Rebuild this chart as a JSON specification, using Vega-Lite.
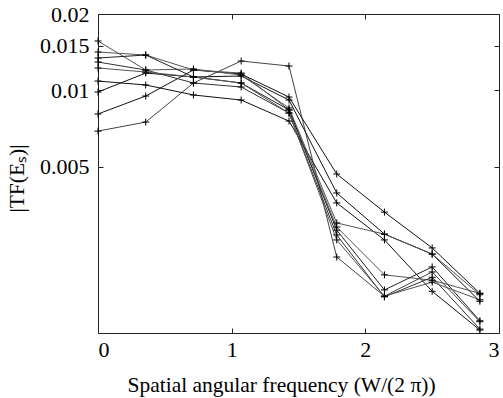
{
  "$schema": "https://vega.github.io/schema/vega-lite/v6.json",
  "autosize": "none",
  "width": 401,
  "height": 319,
  "padding": {"left": 98, "top": 14, "right": 4, "bottom": 65},
  "background": "white",
  "config": {
    "view": {"stroke": "#222", "strokeWidth": 1},
    "axis": {
      "grid": false, "domain": false,
      "labelFont": "Liberation Serif", "labelFontSize": 22, "labelColor": "#000",
      "titleFont": "Liberation Serif", "titleFontSize": 21.5, "titleColor": "#000", "titleFontWeight": "normal",
      "tickColor": "#222", "tickSize": -5, "tickWidth": 1
    }
  },
  "data": {"values": [
    {"s":"S1","x":0,"y":0.00692},{"s":"S1","x":0.357,"y":0.00751},{"s":"S1","x":0.714,"y":0.0107},{"s":"S1","x":1.071,"y":0.01306},{"s":"S1","x":1.429,"y":0.01248},{"s":"S1","x":1.786,"y":0.00221},{"s":"S1","x":2.143,"y":0.00155},{"s":"S1","x":2.5,"y":0.00193},{"s":"S1","x":2.857,"y":0.00123},
    {"s":"S2","x":0,"y":0.00808},{"s":"S2","x":0.357,"y":0.00951},{"s":"S2","x":0.714,"y":0.01204},{"s":"S2","x":1.071,"y":0.01161},{"s":"S2","x":1.429,"y":0.00942},{"s":"S2","x":1.786,"y":0.00469},{"s":"S2","x":2.143,"y":0.00332},{"s":"S2","x":2.5,"y":0.0024},{"s":"S2","x":2.857,"y":0.00159},
    {"s":"S3","x":0,"y":0.00986},{"s":"S3","x":0.357,"y":0.01171},{"s":"S3","x":0.714,"y":0.0113},{"s":"S3","x":1.071,"y":0.0114},{"s":"S3","x":1.429,"y":0.00917},{"s":"S3","x":1.786,"y":0.00395},{"s":"S3","x":2.143,"y":0.00272},{"s":"S3","x":2.5,"y":0.00227},{"s":"S3","x":2.857,"y":0.00148},
    {"s":"S4","x":0,"y":0.01089},{"s":"S4","x":0.357,"y":0.01051},{"s":"S4","x":0.714,"y":0.0096},{"s":"S4","x":1.071,"y":0.00917},{"s":"S4","x":1.429,"y":0.00758},{"s":"S4","x":1.786,"y":0.00361},{"s":"S4","x":2.143,"y":0.00258},{"s":"S4","x":2.5,"y":0.00162},{"s":"S4","x":2.857,"y":0.00114},
    {"s":"S5","x":0,"y":0.01566},{"s":"S5","x":0.357,"y":0.01204},{"s":"S5","x":0.714,"y":0.01215},{"s":"S5","x":1.071,"y":0.0115},{"s":"S5","x":1.429,"y":0.00853},{"s":"S5","x":1.786,"y":0.00301},{"s":"S5","x":2.143,"y":0.00272},{"s":"S5","x":2.5,"y":0.00227},{"s":"S5","x":2.857,"y":0.00157},
    {"s":"S6","x":0,"y":0.01417},{"s":"S6","x":0.357,"y":0.01379},{"s":"S6","x":0.714,"y":0.01204},{"s":"S6","x":1.071,"y":0.01171},{"s":"S6","x":1.429,"y":0.00838},{"s":"S6","x":1.786,"y":0.0029},{"s":"S6","x":2.143,"y":0.00188},{"s":"S6","x":2.5,"y":0.00179},{"s":"S6","x":2.857,"y":0.00159},
    {"s":"S7","x":0,"y":0.01342},{"s":"S7","x":0.357,"y":0.01379},{"s":"S7","x":0.714,"y":0.0113},{"s":"S7","x":1.071,"y":0.0107},{"s":"S7","x":1.429,"y":0.00838},{"s":"S7","x":1.786,"y":0.00282},{"s":"S7","x":2.143,"y":0.00164},{"s":"S7","x":2.5,"y":0.00202},{"s":"S7","x":2.857,"y":0.00124},
    {"s":"S8","x":0,"y":0.01294},{"s":"S8","x":0.357,"y":0.01204},{"s":"S8","x":0.714,"y":0.0107},{"s":"S8","x":1.071,"y":0.01032},{"s":"S8","x":1.429,"y":0.00815},{"s":"S8","x":1.786,"y":0.0027},{"s":"S8","x":2.143,"y":0.00154},{"s":"S8","x":2.5,"y":0.00184},{"s":"S8","x":2.857,"y":0.00115},
    {"s":"S9","x":0,"y":0.01226},{"s":"S9","x":0.357,"y":0.01182},{"s":"S9","x":0.714,"y":0.0113},{"s":"S9","x":1.071,"y":0.0107},{"s":"S9","x":1.429,"y":0.00815},{"s":"S9","x":1.786,"y":0.00258},{"s":"S9","x":2.143,"y":0.00155},{"s":"S9","x":2.5,"y":0.00176},{"s":"S9","x":2.857,"y":0.0015}
  ]},
  "layer": [
    {
      "mark": {"type": "line", "strokeWidth": 1, "clip": true},
      "encoding": {
        "x": {"field": "x", "type": "quantitative", "scale": {"domain": [0, 3], "nice": false, "zero": false},
              "axis": {"orient": "bottom", "values": [0, 1, 2, 3], "title": "Spatial angular frequency (W/(2 π))", "labelPadding": 11, "titleX": 183, "titleY": 58, "titleBaseline": "alphabetic"}},
        "y": {"field": "y", "type": "quantitative", "scale": {"type": "log", "domain": [0.00111, 0.02], "nice": false},
              "axis": {"orient": "left", "values": [0.005, 0.01, 0.015, 0.02], "format": "~g", "title": "|TF(Eₛ)|", "labelPadding": 14, "titleX": -70, "titleY": 164}},
        "detail": {"field": "s"},
        "color": {"field": "s", "type": "nominal", "legend": null,
                  "scale": {"domain": ["S1","S2","S3","S4","S5","S6","S7","S8","S9"],
                            "range": ["#444444","#111111","#111111","#111111","#555555","#555555","#222222","#333333","#555555"]}}
      }
    },
    {
      "mark": {"type": "point", "shape": "M-1,0H1M0,-1V1", "filled": false, "size": 49, "strokeWidth": 1, "color": "#000", "opacity": 1},
      "encoding": {
        "x": {"field": "x", "type": "quantitative", "axis": {"orient": "top", "values": [0, 1, 2, 3], "labels": false, "title": null}},
        "y": {"field": "y", "type": "quantitative", "axis": {"orient": "right", "values": [0.005, 0.01, 0.015, 0.02], "labels": false, "title": null}}
      }
    }
  ],
  "resolve": {"axis": {"x": "independent", "y": "independent"}}
}
